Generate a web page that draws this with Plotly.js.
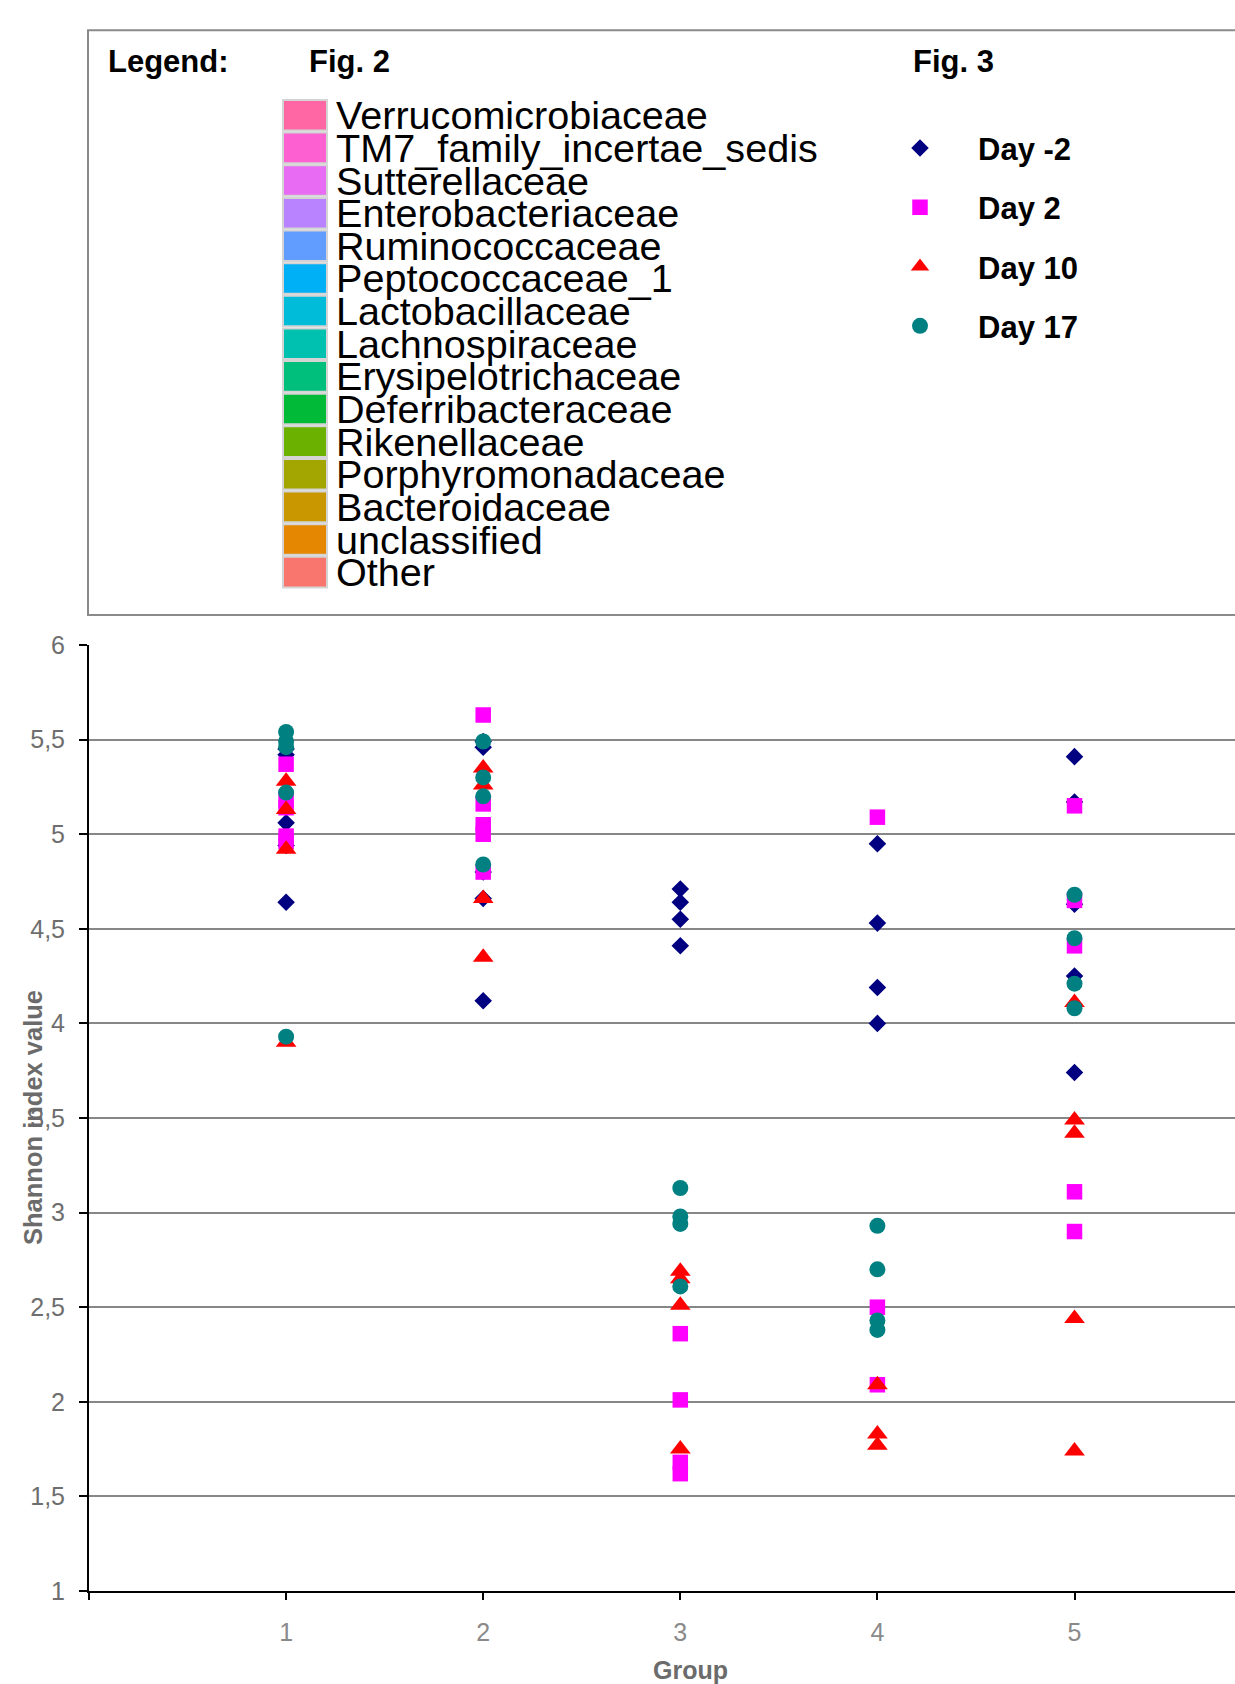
<!DOCTYPE html>
<html><head><meta charset="utf-8">
<script src="https://cdn.plot.ly/plotly-3.0.1.min.js"></script>
<style>html,body{margin:0;padding:0;background:#fff;overflow:hidden}</style>
</head><body><div id="chart" style="width:1235px;height:1684px"></div>
<script>
// ---------- data ----------
const groupLabels = ['1', '2', '3', '4', '5'];
const dayNames = ['Day -2', 'Day 2', 'Day 10', 'Day 17'];

const dayM2Group = [1,1,1,1,1, 2,2,2,2,2, 3,3,3,3, 4,4,4,4, 5,5,5,5,5];
const dayM2Value = [5.45,5.42,5.06,4.94,4.64, 5.49,5.46,4.80,4.66,4.12, 4.71,4.64,4.55,4.41, 4.95,4.53,4.19,4.00, 5.41,5.17,4.63,4.25,3.74];

const day2Group = [1,1,1,1,1, 2,2,2,2,2, 3,3,3,3, 4,4,4, 5,5,5,5,5];
const day2Value = [5.37,5.18,5.14,4.99,4.96, 5.63,5.16,5.05,5.00,4.80, 2.36,2.01,1.68,1.62, 5.09,2.50,2.09, 5.15,4.65,4.41,3.11,2.90];

const day10Group = [1,1,1,1, 2,2,2,2, 3,3,3,3, 4,4,4, 5,5,5,5,5];
const day10Value = [5.28,5.13,4.92,3.90, 5.35,5.26,4.66,4.35, 2.69,2.65,2.51,1.75, 2.09,1.83,1.77, 4.11,3.49,3.42,2.44,1.74];

const day17Group = [1,1,1,1,1, 2,2,2,2, 3,3,3,3, 4,4,4,4, 5,5,5,5];
const day17Value = [5.54,5.49,5.46,5.22,3.93, 5.49,5.30,5.20,4.84, 3.13,2.98,2.94,2.61, 2.93,2.70,2.43,2.38, 4.68,4.45,4.21,4.08];

const families = ['Verrucomicrobiaceae', 'TM7_family_incertae_sedis', 'Sutterellaceae',
  'Enterobacteriaceae', 'Ruminococcaceae', 'Peptococcaceae_1', 'Lactobacillaceae',
  'Lachnospiraceae', 'Erysipelotrichaceae', 'Deferribacteraceae', 'Rikenellaceae',
  'Porphyromonadaceae', 'Bacteroidaceae', 'unclassified', 'Other'];
const familyColors = ['#FF67A4', '#FD61D1', '#E76BF3', '#B983FF', '#619CFF', '#00B0F6',
  '#00BCD8', '#00C0AF', '#00BF7D', '#00BA38', '#6BB100', '#A3A500', '#C99800', '#E58700', '#F8766D'];

// ---------- geometry ----------
const FIG_W = 1235, FIG_H = 1684;
const L = 89, T = 645, B = FIG_H - 1591.5, R = 0;
const W = FIG_W - L - R, H = FIG_H - T - B;
const px2x = p => (p - L) / W;
const py2y = p => (FIG_H - B - p) / H;
const FONT = 'Liberation Sans, Arial, sans-serif';

// ---------- traces ----------
const series = [
  {g: dayM2Group, v: dayM2Value, symbol: 'diamond', color: '#000080', size: 13.5},
  {g: day2Group, v: day2Value, symbol: 'square', color: '#FF00FF', size: 15.5},
  {g: day10Group, v: day10Value, symbol: 'triangle-up', color: '#FF0000', size: 18},
  {g: day17Group, v: day17Value, symbol: 'circle', color: '#008080', size: 16}
];
const traces = series.map((s, i) => ({
  type: 'scatter', mode: 'markers', x: s.g, y: s.v, name: dayNames[i],
  legendgroup: dayNames[i],
  marker: {symbol: s.symbol, color: s.color, size: s.size, line: {width: 0}},
  hoverinfo: 'x+y'
}));

// ---------- legend box (Fig. 2) ----------
const shapes = [{
  type: 'rect', xref: 'paper', yref: 'paper',
  x0: px2x(88), x1: px2x(1260), y0: py2y(615), y1: py2y(30),
  line: {color: '#8a8a8a', width: 2}, fillcolor: 'rgba(0,0,0,0)', layer: 'below'
}];
const annotations = [];
const ROW0 = 115, ROWSTEP = 32.65;
families.forEach((f, i) => {
  const yc = ROW0 + i * ROWSTEP;
  shapes.push({
    type: 'rect', xref: 'paper', yref: 'paper',
    x0: px2x(283), x1: px2x(327), y0: py2y(yc + 15.3), y1: py2y(yc - 15.3),
    fillcolor: familyColors[i], line: {color: '#d4d4d4', width: 2}
  });
  annotations.push({
    xref: 'paper', yref: 'paper', x: px2x(334), y: py2y(yc),
    xanchor: 'left', yanchor: 'middle', showarrow: false, text: f,
    font: {family: FONT, size: 39.6, color: '#000'}
  });
});
const boldHead = (txt, xl) => ({
  xref: 'paper', yref: 'paper', x: px2x(xl), y: py2y(61),
  xanchor: 'left', yanchor: 'middle', showarrow: false, text: txt,
  font: {family: FONT, size: 31, color: '#000', weight: 'bold'}
});
annotations.push(boldHead('Legend:', 106));
annotations.push(boldHead('Fig. 2', 307));
annotations.push(boldHead('Fig. 3', 911));
annotations.push({
  xref: 'paper', yref: 'paper', x: px2x(33), y: 0.5, xanchor: 'center', yanchor: 'middle',
  textangle: -90, showarrow: false, text: 'Shannon index value',
  font: {family: FONT, size: 25.5, color: '#6b6b6b', weight: 'bold'}
});
annotations.push({
  xref: 'paper', yref: 'paper', x: px2x(690), y: py2y(1671), xanchor: 'center', yanchor: 'middle',
  showarrow: false, text: 'Group', borderpad: 0,
  font: {family: FONT, size: 25, color: '#6b6b6b', weight: 'bold'}
});

const layout = {
  width: FIG_W, height: FIG_H,
  margin: {l: L, r: R, t: T, b: B, pad: 0},
  paper_bgcolor: '#fff', plot_bgcolor: '#fff',
  separators: ',.',
  font: {family: FONT},
  xaxis: {
    range: [0, W / 197.1], tickvals: [0, 1, 2, 3, 4, 5], ticktext: [''].concat(groupLabels),
    ticks: 'outside', ticklen: 7, tickwidth: 2, tickcolor: '#000',
    showline: true, linecolor: '#000', linewidth: 2, showgrid: false, zeroline: false,
    tickfont: {family: FONT, size: 25, color: '#8a8a8a'}, ticklabelstandoff: 11
  },
  yaxis: {
    range: [1, 6], tick0: 1, dtick: 0.5,
    ticks: 'outside', ticklen: 8, tickwidth: 2, tickcolor: '#000',
    showline: true, linecolor: '#000', linewidth: 2,
    showgrid: true, gridcolor: '#878787', gridwidth: 2, zeroline: false,
    tickfont: {family: FONT, size: 25, color: '#6e6e6e'}, ticklabelstandoff: 9
  },
  showlegend: true,
  legend: {
    x: px2x(862), xanchor: 'left', y: py2y(121), yanchor: 'top',
    itemwidth: 106, traceorder: 'grouped', tracegroupgap: 16,
    bgcolor: 'rgba(0,0,0,0)', borderwidth: 0,
    font: {family: FONT, size: 31, color: '#000', weight: 'bold'}
  },
  shapes: shapes, annotations: annotations
};

Plotly.newPlot('chart', traces, layout, {displayModeBar: false, responsive: false});
</script>
</body></html>
